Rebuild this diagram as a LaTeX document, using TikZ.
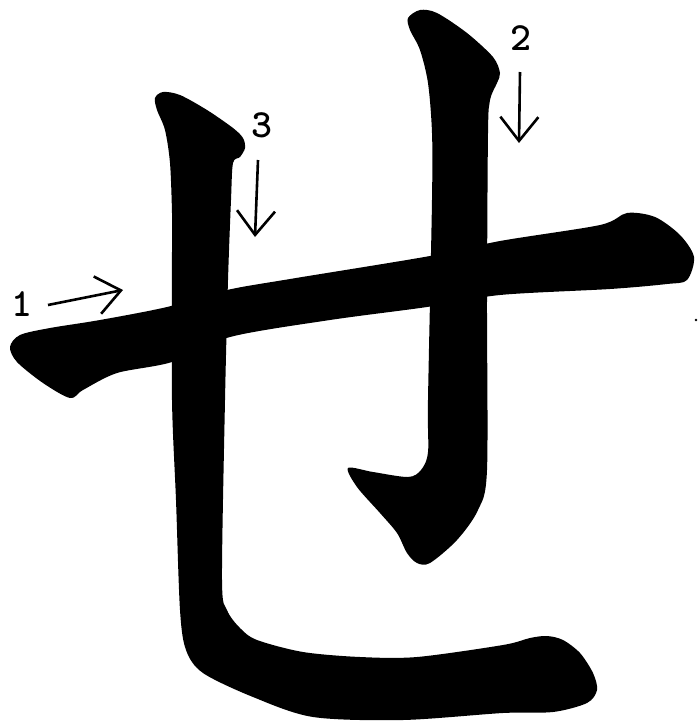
\documentclass[tikz,border=0pt]{standalone}
\usetikzlibrary{arrows.meta}
\begin{document}
\begin{tikzpicture}[x=1pt,y=-1pt,
  ink/.style={fill=black},
  num/.style={font=\ttfamily\bfseries\fontsize{40}{40}\selectfont,inner sep=0pt},
  hint/.style={line width=2.6pt,-{Straight Barb[length=24pt,width=38pt]}}
]
\useasboundingbox (0,0) rectangle (698,721);

% stroke 1: horizontal
\fill[ink] plot[smooth cycle,tension=0.5] coordinates {
  (10,347) (20,335) (50,328) (100,320) (167,307) (227,290) (290,279) (430,256)
  (500,241) (600,225) (627,213) (655,217) (680,235) (694,257) (687,280) (667,284)
  (610,289) (500,295) (427,307) (330,320) (230,337) (172,362) (117,373) (83,390)
  (70,398) (43,383) (17,362)};

% stroke 2: right vertical with hook
\fill[ink] plot[smooth cycle,tension=0.5] coordinates {
  (408,18) (420,10) (437,13) (467,33) (493,57) (500,73) (497,83) (490,100)
  (488,133) (487,300) (487,470) (478,510) (457,540) (430,563) (417,563) (407,553)
  (397,533) (380,513) (357,487) (348,468) (373,472) (408,477) (421,470)
  (428,452) (428,400) (432,200) (432,133) (428,83) (420,50) (410,30)};

% stroke 3: left vertical turning right
\fill[ink] plot[smooth cycle,tension=0.5] coordinates {
  (155,98) (163,92) (180,95) (207,110) (233,128) (243,138) (245,148) (240,157)
  (233,163) (231,200) (228,280) (225,400) (222,580) (227,610) (240,628) (257,640)
  (303,652) (360,657) (417,657) (503,645) (530,638) (547,636) (563,640) (580,653)
  (593,673) (597,690) (587,703) (553,712) (503,713) (403,720) (313,717) (253,697)
  (203,673) (186,650) (180,610) (176,500) (172,400) (172,250) (172,213) (170,163)
  (165,130) (157,110)};

% stroke order hints
\foreach \n/\lx/\ly/\sx/\sy/\ex/\ey in {1/22/304/48/305/123/290,
    2/521/38/520/72/519/143, 3/262/125/258/160/255/237}{
  \node[num] (lab\n) at (\lx,\ly) {\n};
  \coordinate (from\n) at (\sx,\sy);
  \coordinate (to\n) at (\ex,\ey);
  \draw[hint] (from\n) -- (to\n);
}

\fill (696,320) circle (1.4);
\end{tikzpicture}
\end{document}
